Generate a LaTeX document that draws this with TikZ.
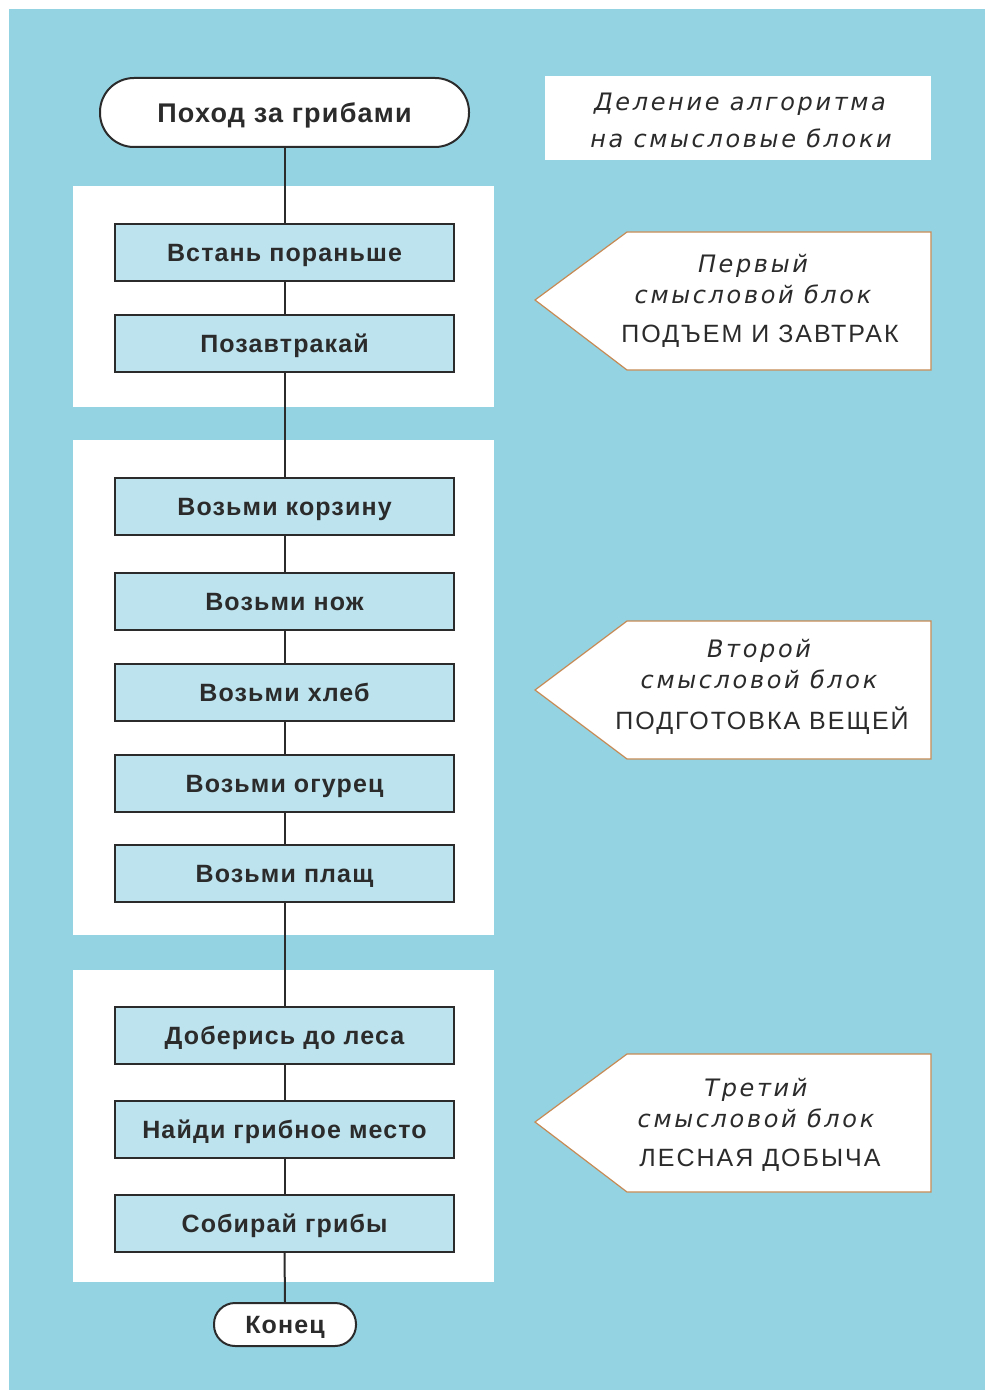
\documentclass[tikz,border=0pt]{standalone}
\usepackage{fontspec}
\setmainfont{Liberation Sans}
\newfontfamily\labfont[LetterSpace=4.5]{Liberation Sans}
\newfontfamily\capfont[LetterSpace=8]{Liberation Sans}
\newfontfamily\itfont[LetterSpace=11]{DejaVu Sans}
\definecolor{bgblue}{HTML}{94D3E2}
\definecolor{boxblue}{HTML}{BDE3EE}
\definecolor{txt}{HTML}{2B2B2B}
\definecolor{edge}{HTML}{2B2B2B}
\definecolor{brown}{HTML}{C68A55}
\tikzset{
  stepbox/.style={draw=edge, line width=1pt, fill=boxblue, minimum width=169.5pt, minimum height=28.5pt, inner sep=0pt, text height=9pt, text depth=0pt, text=txt, font=\labfont\bfseries\fontsize{12.5}{14}\selectfont},
  term/.style={draw=edge, line width=1pt, fill=white, rounded corners=#1, inner sep=0pt, text depth=0pt, text=txt},
  grp/.style={fill=white, draw=none},
  conn/.style={draw=edge, line width=1pt},
  pent/.style={draw=brown, line width=0.6pt, fill=white},
  itl/.style={text=txt, font=\itfont\itshape\fontsize{12}{13}\selectfont, inner sep=0pt},
  capl/.style={text=txt, font=\capfont\fontsize{12.5}{14}\selectfont, inner sep=0pt}
}
\begin{document}
\begin{tikzpicture}[x=0.5pt,y=-0.5pt]
\useasboundingbox (0,0) rectangle (985,1390);
\fill[white] (0,0) rectangle (985,1390);
\fill[bgblue] (9,9) rectangle (985,1390);
% group panels
\fill[grp] (73,186) rectangle (494,407);
\fill[grp] (73,440) rectangle (494,935);
\fill[grp] (73,970) rectangle (494,1282);
% terminals
\node[term=17pt, minimum width=184.5pt, minimum height=34.5pt, text height=9.7pt, font=\labfont\bfseries\fontsize{13.5}{15}\selectfont] (start) at (284.5,112.5) {Поход за грибами};
\node[term=10.5pt, minimum width=71pt, minimum height=21.5pt, text height=9pt, font=\labfont\bfseries\fontsize{12.5}{14}\selectfont] (end) at (285,1324.5) {Конец};
% steps
\node[stepbox] (b1) at (284.5,252.5) {Встань пораньше};
\node[stepbox] (b2) at (284.5,343.5) {Позавтракай};
\node[stepbox] (b3) at (284.5,506.5) {Возьми корзину};
\node[stepbox] (b4) at (284.5,601.5) {Возьми нож};
\node[stepbox] (b5) at (284.5,692.5) {Возьми хлеб};
\node[stepbox] (b6) at (284.5,783.5) {Возьми огурец};
\node[stepbox] (b7) at (284.5,873.5) {Возьми плащ};
\node[stepbox] (b8) at (284.5,1035.5) {Доберись до леса};
\node[stepbox] (b9) at (284.5,1129.5) {Найди грибное место};
\node[stepbox] (b10) at (284.5,1223.5) {Собирай грибы};
% connectors
\draw[conn] (start.south) -- (b1.north);
\draw[conn] (b1.south) -- (b2.north);
\draw[conn] (b2.south) -- (b3.north);
\draw[conn] (b3.south) -- (b4.north);
\draw[conn] (b4.south) -- (b5.north);
\draw[conn] (b5.south) -- (b6.north);
\draw[conn] (b6.south) -- (b7.north);
\draw[conn] (b7.south) -- (b8.north);
\draw[conn] (b8.south) -- (b9.north);
\draw[conn] (b9.south) -- (b10.north);
\draw[conn] (b10.south) -- (end.north);
% title box
\fill[white] (545,76) rectangle (931,160);
\node[itl] (t1) at (740,104) {Деление алгоритма};
\node[itl] (t2) at (741,138) {на смысловые блоки};
% pentagon arrows
\draw[pent] (535,300) -- (627,232) -- (931,232) -- (931,370) -- (627,370) -- cycle;
\node[itl] (p1a) at (753,266) {Первый};
\node[itl] (p1b) at (753,294) {смысловой блок};
\node[capl] (p1c) at (760,336) {ПОДЪЕМ И ЗАВТРАК};
\draw[pent] (535,690) -- (627,621) -- (931,621) -- (931,759) -- (627,759) -- cycle;
\node[itl] (p2a) at (759,651) {Второй};
\node[itl] (p2b) at (759,679) {смысловой блок};
\node[capl] (p2c) at (762,721) {ПОДГОТОВКА ВЕЩЕЙ};
\draw[pent] (535,1122) -- (627,1054) -- (931,1054) -- (931,1192) -- (627,1192) -- cycle;
\node[itl] (p3a) at (756,1090) {Третий};
\node[itl] (p3b) at (756,1118) {смысловой блок};
\node[capl] (p3c) at (760,1160) {ЛЕСНАЯ ДОБЫЧА};
\end{tikzpicture}
\end{document}
